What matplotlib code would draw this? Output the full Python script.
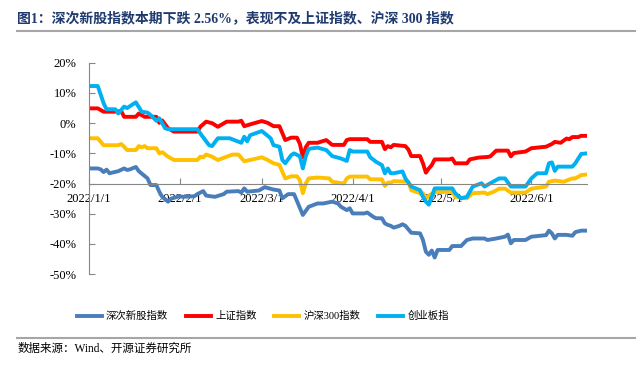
import numpy as np
import pandas as pd
import matplotlib
matplotlib.use("Agg")
import matplotlib.pyplot as plt
from matplotlib.ticker import PercentFormatter

plt.rcParams['font.family'] = ['Liberation Serif', 'Noto Sans CJK SC', 'DejaVu Sans']
plt.rcParams['axes.unicode_minus'] = False

# 数据（由图中读取，单位 %）
cx_dates = ['01-01', '01-04', '01-05', '01-06', '01-07', '01-08', '01-11', '01-13', '01-14', '01-15',
            '01-17', '01-18', '01-21', '01-22', '01-24', '01-25', '01-26', '01-28', '01-29', '02-01',
            '02-02', '02-06', '02-07', '02-08', '02-09', '02-10', '02-13', '02-16', '02-17', '02-21',
            '02-22', '02-23', '02-24', '02-28', '03-02', '03-05', '03-07', '03-08', '03-10', '03-12',
            '03-15', '03-17', '03-20', '03-22', '03-25', '03-27', '03-28', '03-30', '03-31', '04-01',
            '04-05', '04-06', '04-08', '04-09', '04-11', '04-12', '04-13', '04-14', '04-15', '04-17',
            '04-18', '04-19', '04-21', '04-24', '04-25', '04-26', '04-27', '04-28', '04-29', '04-30',
            '05-04', '05-05', '05-08', '05-10', '05-12', '05-16', '05-17', '05-20', '05-23', '05-24',
            '05-25', '05-26', '05-30', '06-01', '06-06', '06-07', '06-08', '06-09', '06-10', '06-13',
            '06-15', '06-16', '06-18', '06-20']
cx_vals = [-15.0, -15.0, -15.3, -16.2, -15.4, -16.6, -15.9, -15.0, -15.5, -15.3,
           -14.5, -15.9, -18.3, -20.5, -20.5, -22.7, -24.4, -26.0, -25.0, -24.2,
           -24.4, -24.2, -23.5, -23.0, -22.5, -24.0, -24.4, -23.5, -22.7, -22.5,
           -23.0, -21.6, -22.7, -22.3, -21.2, -22.0, -22.3, -24.9, -23.5, -23.5,
           -30.4, -27.7, -26.6, -26.6, -26.0, -26.6, -27.7, -28.8, -28.2, -29.9,
           -29.9, -29.6, -31.0, -31.5, -31.5, -33.2, -33.7, -34.0, -34.6, -34.0,
           -33.5, -34.0, -36.3, -36.5, -38.7, -42.6, -43.6, -42.2, -44.5, -42.0,
           -42.0, -40.7, -40.7, -38.7, -38.2, -38.2, -38.7, -38.2, -37.6, -36.9,
           -39.8, -38.7, -38.7, -37.6, -37.1, -35.6, -36.5, -38.2, -37.0, -37.0,
           -37.3, -36.1, -35.6, -35.6]

sh_dates = ['01-01', '01-04', '01-06', '01-10', '01-12', '01-13', '01-17', '01-18', '01-20', '01-24',
            '01-25', '01-26', '01-28', '01-30', '02-07', '02-08', '02-10', '02-12', '02-14', '02-17',
            '02-21', '02-22', '02-23', '02-25', '03-01', '03-03', '03-05', '03-07', '03-09', '03-11',
            '03-13', '03-14', '03-15', '03-16', '03-17', '03-20', '03-23', '03-25', '03-29', '03-30',
            '03-31', '04-06', '04-07', '04-11', '04-12', '04-13', '04-14', '04-15', '04-19', '04-20',
            '04-21', '04-24', '04-25', '04-26', '04-27', '04-28', '04-29', '05-04', '05-05', '05-06',
            '05-10', '05-11', '05-14', '05-17', '05-18', '05-20', '05-24', '05-25', '05-26', '05-30',
            '06-01', '06-06', '06-08', '06-09', '06-11', '06-13', '06-14', '06-15', '06-17', '06-18',
            '06-20']
sh_vals = [4.9, 4.9, 3.8, 3.8, 4.0, 2.1, 2.1, 3.2, 2.1, 2.1,
           0.1, 0.9, -1.7, -2.8, -2.8, -1.2, 0.5, 0.0, -1.2, 0.5,
           0.5, 0.8, -1.0, -0.4, 0.7, 0.1, -1.0, -1.0, -5.6, -4.8,
           -4.8, -6.9, -11.3, -8.0, -6.5, -6.5, -5.6, -7.2, -7.2, -5.6,
           -5.3, -5.3, -6.2, -6.2, -8.6, -7.6, -8.0, -7.2, -7.6, -8.7,
           -10.9, -10.9, -13.3, -16.4, -15.0, -13.9, -12.0, -12.0, -11.7, -13.3,
           -13.3, -12.0, -11.4, -11.2, -11.0, -9.1, -9.1, -11.0, -9.9, -9.4,
           -8.3, -7.8, -6.9, -6.2, -6.5, -5.1, -5.3, -4.6, -4.6, -4.2,
           -4.2]

hs_dates = ['01-01', '01-04', '01-06', '01-11', '01-12', '01-13', '01-14', '01-17', '01-18', '01-19',
            '01-20', '01-21', '01-24', '01-25', '01-26', '01-28', '01-30', '02-07', '02-08', '02-09',
            '02-10', '02-12', '02-14', '02-17', '02-19', '02-21', '02-22', '02-23', '02-25', '03-01',
            '03-03', '03-05', '03-07', '03-09', '03-11', '03-13', '03-14', '03-15', '03-16', '03-17',
            '03-20', '03-24', '03-25', '03-29', '03-30', '03-31', '04-06', '04-07', '04-11', '04-12',
            '04-13', '04-14', '04-15', '04-20', '04-21', '04-24', '04-25', '04-26', '04-27', '04-29',
            '05-05', '05-06', '05-10', '05-12', '05-16', '05-17', '05-19', '05-21', '05-23', '05-25',
            '05-30', '06-01', '06-06', '06-07', '06-09', '06-12', '06-15', '06-16', '06-18', '06-20']
hs_vals = [-5.0, -5.0, -7.3, -7.3, -6.9, -7.8, -8.9, -8.9, -7.6, -8.0,
           -7.6, -8.3, -8.3, -10.0, -9.6, -11.1, -12.2, -12.2, -11.1, -11.3,
           -10.4, -11.1, -12.2, -11.1, -10.4, -10.4, -11.5, -12.6, -12.2, -11.3,
           -12.2, -13.3, -13.8, -18.3, -17.6, -17.6, -18.9, -23.2, -20.0, -18.3,
           -18.0, -18.3, -19.4, -20.0, -18.3, -17.7, -17.7, -18.6, -18.6, -20.8,
           -19.7, -19.7, -19.2, -19.4, -22.2, -23.2, -23.2, -24.9, -24.0, -22.8,
           -22.8, -24.4, -24.9, -23.2, -23.0, -23.5, -22.8, -21.7, -21.7, -23.0,
           -23.0, -21.7, -21.0, -19.4, -19.0, -19.4, -18.3, -18.3, -17.2, -17.0]

cy_dates = ['01-01', '01-04', '01-06', '01-07', '01-10', '01-11', '01-13', '01-14', '01-17', '01-19',
            '01-21', '01-22', '01-24', '01-25', '01-27', '01-28', '02-07', '02-08', '02-11', '02-12',
            '02-14', '02-18', '02-22', '02-23', '02-24', '02-25', '03-01', '03-04', '03-05', '03-07',
            '03-08', '03-09', '03-11', '03-12', '03-14', '03-15', '03-16', '03-17', '03-20', '03-23',
            '03-25', '03-28', '03-30', '03-31', '04-01', '04-06', '04-07', '04-09', '04-11', '04-12',
            '04-13', '04-14', '04-15', '04-18', '04-19', '04-21', '04-24', '04-25', '04-26', '04-27',
            '04-28', '04-29', '05-05', '05-06', '05-08', '05-10', '05-12', '05-15', '05-16', '05-18',
            '05-21', '05-23', '05-25', '05-30', '06-01', '06-03', '06-06', '06-07', '06-08', '06-09',
            '06-10', '06-15', '06-16', '06-18', '06-20']
cy_vals = [12.3, 12.3, 6.6, 4.6, 4.6, 3.2, 5.5, 5.0, 6.9, 3.8,
           3.5, 2.7, 0.8, 1.6, -1.7, -2.0, -2.0, -3.4, -7.3, -7.6,
           -5.0, -5.0, -6.5, -4.5, -6.0, -4.0, -2.6, -5.0, -7.3, -7.8,
           -12.2, -13.3, -10.6, -10.0, -11.0, -15.0, -11.0, -8.5, -8.1, -8.9,
           -10.9, -11.7, -12.5, -8.9, -9.4, -9.4, -11.3, -12.8, -13.9, -16.6,
           -15.0, -16.6, -16.6, -16.0, -18.3, -21.0, -22.2, -24.4, -26.0, -27.0,
           -24.4, -21.6, -21.6, -23.2, -24.9, -24.4, -21.0, -19.9, -21.0, -19.9,
           -18.3, -18.3, -21.0, -21.0, -18.3, -16.6, -16.6, -13.3, -13.0, -15.8,
           -14.4, -14.4, -13.3, -10.2, -10.0]

names = ['深次新股指数', '上证指数', '沪深300指数', '创业板指']
colors = ['#4A7EBB', '#FF0000', '#FFC000', '#00B0F0']
tick_dates = ['2022-01-01', '2022-02-01', '2022-03-01', '2022-04-01', '2022-05-01', '2022-06-01']
tick_labels = ['2022/1/1', '2022/2/1', '2022/3/1', '2022/4/1', '2022/5/1', '2022/6/1']


def to_dt(ds):
    return pd.to_datetime(['2022-' + d for d in ds])


series = [(cx_dates, cx_vals), (sh_dates, sh_vals), (hs_dates, hs_vals), (cy_dates, cy_vals)]

fig = plt.figure(figsize=(6.41, 3.65), dpi=100)
ax = fig.add_axes([0.1388, 0.249, 0.777, 0.579])

for (ds, vs), name, c in zip(series, names, colors):
    ax.plot(to_dt(ds), vs, color=c, lw=2.8, label=name, solid_joinstyle='round')

ax.set_xlim(pd.Timestamp('2022-01-01'), pd.Timestamp('2022-06-20'))
ax.set_ylim(-50, 20)
ax.set_yticks(np.arange(-50, 21, 10))
ax.yaxis.set_major_formatter(PercentFormatter(decimals=0))
ax.set_xticks(pd.to_datetime(tick_dates), labels=tick_labels)

for s in ['top', 'right']:
    ax.spines[s].set_visible(False)
ax.spines['left'].set_color('#868686')
ax.spines['bottom'].set_color('#868686')
ax.spines['bottom'].set_position(('data', -20))
ax.tick_params(axis='both', direction='in', length=4, color='#868686', labelsize=9)
ax.tick_params(axis='y', pad=9)
ax.tick_params(axis='x', pad=7)

fig.text(0.027, 0.951, '图1：深次新股指数本期下跌 2.56%，表现不及上证指数、沪深 300 指数',
         fontsize=10, fontweight='bold', color='#1F3A6E', va='center', ha='left')
fig.add_artist(plt.Line2D([0.027, 0.99], [0.915, 0.915], color='#A6A6A6', lw=1.5))
fig.add_artist(plt.Line2D([0.027, 0.99], [0.075, 0.075], color='#A6A6A6', lw=1.5))
fig.text(0.027, 0.044, '数据来源：Wind、开源证券研究所', fontsize=8.3, va='center', ha='left')

fig.legend(loc='center', bbox_to_anchor=(0.41, 0.134), ncol=4, frameon=False, fontsize=7.5,
           handlelength=2.4, columnspacing=1.7, handletextpad=0.4)

plt.savefig('out.png', dpi=100)
